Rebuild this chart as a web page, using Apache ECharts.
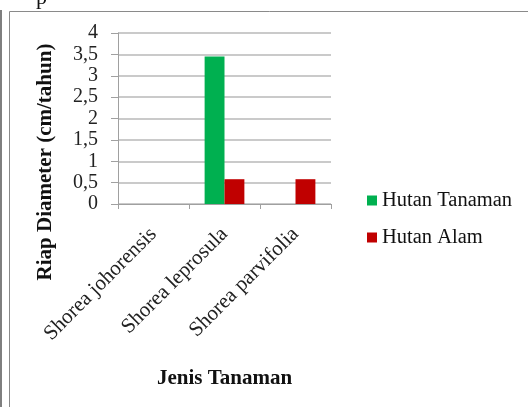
<!DOCTYPE html>
<html><head><meta charset="utf-8">
<script src="https://cdn.jsdelivr.net/npm/echarts@6/dist/echarts.min.js"></script>
<style>html,body{margin:0;padding:0;background:#fff}#c{width:528px;height:407px}</style>
</head><body><div id="c"></div>
<script>
const categories = ['Shorea johorensis', 'Shorea leprosula', 'Shorea parvifolia'];
const hutanTanaman = [0, 3.45, null];
const hutanAlam = [0, 0.58, 0.58];
const seriesNames = ['Hutan Tanaman', 'Hutan Alam'];
const yTicks = [0, 0.5, 1, 1.5, 2, 2.5, 3, 3.5, 4];
const xTitle = 'Jenis Tanaman';
const yTitle = 'Riap Diameter (cm/tahun)';

const F = '"Liberation Serif", "DejaVu Serif", serif';
const chart = echarts.init(document.getElementById('c'));
chart.setOption({
  animation: false,
  backgroundColor: '#fff',
  grid: { left: 118, right: 197, top: 33, bottom: 203 },
  legend: {
    orient: 'vertical', left: 362, top: 185, itemWidth: 10, itemHeight: 10, itemGap: 16,
    icon: 'rect',
    textStyle: { fontFamily: F, fontSize: 20.5, color: '#111' },
    data: seriesNames
  },
  xAxis: {
    type: 'category', data: categories,
    name: xTitle, nameLocation: 'middle', nameGap: 164,
    nameTextStyle: { fontFamily: F, fontSize: 21, fontWeight: 'bold', color: '#111' },
    axisLine: { lineStyle: { color: '#a0a0a0' } },
    axisTick: { show: true, length: 5, lineStyle: { color: '#a0a0a0' } },
    axisLabel: { rotate: 45, interval: 0, margin: 27, fontFamily: F, fontSize: 21, color: '#222' }
  },
  yAxis: {
    type: 'value', min: 0, max: 4, interval: 0.5,
    axisLine: { show: true, lineStyle: { color: '#a0a0a0' } },
    axisTick: { show: true, inside: false, length: 7, lineStyle: { color: '#a0a0a0' } },
    splitLine: { lineStyle: { color: '#b8b8b8', width: 1.5 } },
    axisLabel: {
      margin: 20, fontFamily: F, fontSize: 20, color: '#222',
      formatter: v => yTicks.includes(v) ? String(v).replace('.', ',') : ''
    }
  },
  series: [
    { name: seriesNames[0], type: 'bar', data: hutanTanaman, itemStyle: { color: '#00B050' }, barGap: '0%', barCategoryGap: '44%' },
    { name: seriesNames[1], type: 'bar', data: hutanAlam, itemStyle: { color: '#C00000' }, barGap: '0%', barCategoryGap: '44%' }
  ],
  graphic: [
    { type: 'rect', shape: { x: 9.5, y: 11.5, width: 530, height: 410 }, style: { fill: null, stroke: '#8a8a8a', lineWidth: 1 } },
    { type: 'line', shape: { x1: 1, y1: 10, x2: 1, y2: 407 }, style: { stroke: '#555', lineWidth: 1.5 } },
    { type: 'text', left: 36, top: -13, style: { text: 'p', font: '22px ' + F, fill: '#111' } },
    { type: 'text', x: 46, y: 162, rotation: Math.PI / 2,
      style: { text: yTitle, font: 'bold 21px ' + F, fill: '#111', align: 'center', verticalAlign: 'middle' } }
  ]
});
</script></body></html>
